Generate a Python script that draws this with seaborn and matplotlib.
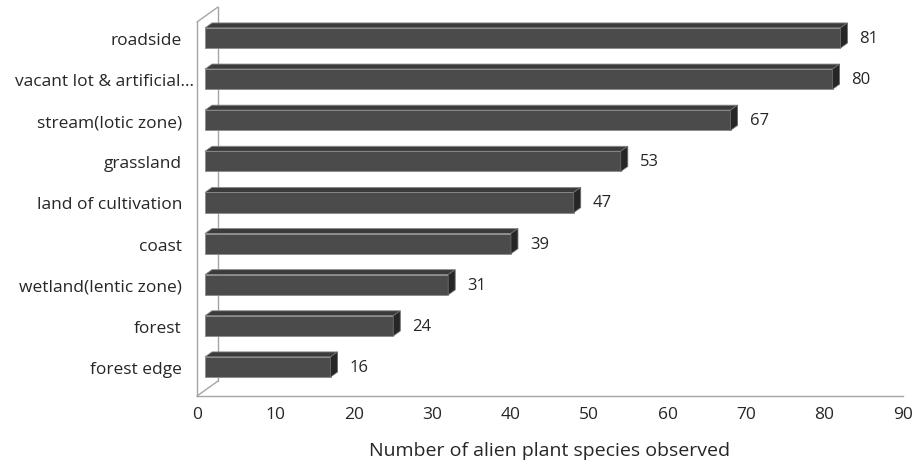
import matplotlib
matplotlib.use("Agg")
import matplotlib.pyplot as plt
import seaborn as sns
import pandas as pd
from matplotlib.patches import Polygon
from matplotlib.transforms import ScaledTranslation

categories = ["roadside", "vacant lot & artificial...", "stream(lotic zone)", "grassland",
              "land of cultivation", "coast", "wetland(lentic zone)", "forest", "forest edge"]
values = [81, 80, 67, 53, 47, 39, 31, 24, 16]
xticks = [0, 10, 20, 30, 40, 50, 60, 70, 80, 90]
xlabel = "Number of alien plant species observed"

sns.set_theme(style="white")
plt.rcParams['font.family'] = ['Open Sans', 'DejaVu Sans']
TXT = "#262626"

W, H = 916, 464
fig = plt.figure(figsize=(W / 100, H / 100), dpi=100)
L, R, T, B = 197, 903, 23, 397
ax = fig.add_axes([L / W, 1 - B / H, (R - L) / W, (B - T) / H])

df = pd.DataFrame({"category": categories, "value": values})
sns.barplot(data=df, x="value", y="category", orient="h", color="#4b4b4b",
            saturation=1, width=0.49, ax=ax, edgecolor="#8a8a8a", linewidth=0.6, zorder=3)

ylo, yhi = 8.706, -0.389
ax.set_xlim(xticks[0], xticks[-1])
ax.set_ylim(ylo, yhi)

px_x = (xticks[-1] - xticks[0]) / (R - L)
px_y = (ylo - yhi) / (B - T)

shift = 8 * px_x
ddx, ddy = 7 * px_x, 5 * px_y

for p, v in zip(ax.patches, values):
    p.set_x(p.get_x() + shift)
    x0 = p.get_x()
    x1 = x0 + p.get_width()
    y0 = p.get_y()
    y1 = y0 + p.get_height()
    top = Polygon([(x0, y0), (x1, y0), (x1 + ddx, y0 - ddy), (x0 + ddx, y0 - ddy)],
                  closed=True, facecolor="#3b3b3b", edgecolor="#8a8a8a", lw=0.6, zorder=3)
    side = Polygon([(x1, y0), (x1 + ddx, y0 - ddy), (x1 + ddx, y1 - ddy), (x1, y1)],
                   closed=True, facecolor="#262626", edgecolor="#6a6a6a", lw=0.6, zorder=3)
    ax.add_patch(top)
    ax.add_patch(side)
    ax.annotate(str(v), xy=(x1, (y0 + y1) / 2), xytext=(19, 0), textcoords="offset pixels",
                ha="left", va="center", fontsize=12, color=TXT)

# 3D wall decorations
wall = "#a5a5a5"
wdx, wdy = 21 * px_x, 15 * px_y
ax.plot([0, wdx], [yhi, yhi - wdy], color=wall, lw=1, clip_on=False, zorder=1)
ax.plot([wdx, wdx], [yhi - wdy, ylo - wdy], color=wall, lw=1, clip_on=False, zorder=1)
ax.plot([0, wdx], [ylo, ylo - wdy], color=wall, lw=1, clip_on=False, zorder=1)

for s in ["top", "right"]:
    ax.spines[s].set_visible(False)
for s in ["left", "bottom"]:
    ax.spines[s].set_color(wall)
    ax.spines[s].set_linewidth(1)

ax.set_xticks(xticks)
ax.tick_params(axis="x", direction="in", length=5, width=1, color=wall, pad=7,
               labelsize=12.5, labelcolor=TXT)
ax.tick_params(axis="y", length=0, pad=10.8, labelsize=12.5, labelcolor=TXT)
ax.set_ylabel("")
ax.set_xlabel(xlabel, fontsize=14, color=TXT, labelpad=14)

for lab in ax.get_yticklabels():
    if lab.get_text().startswith("vacant"):
        lab.set_transform(lab.get_transform() + ScaledTranslation(12 / 100, 0, fig.dpi_scale_trans))

fig.savefig("out.png", dpi=100, facecolor="white")
